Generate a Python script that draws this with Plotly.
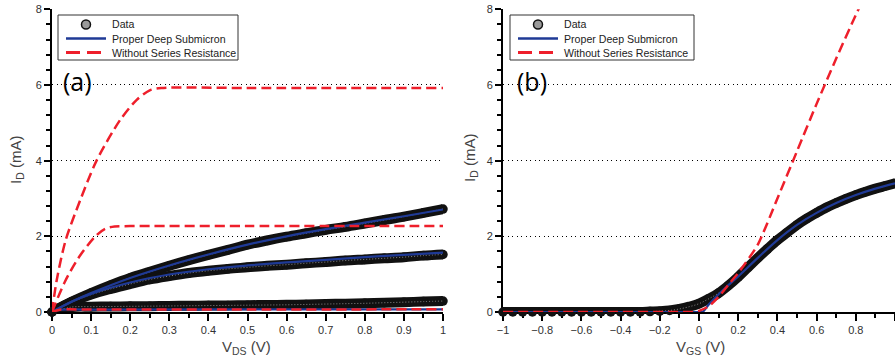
import plotly.graph_objects as go

# ---------------- data ----------------
# Panel (a): I_D vs V_DS
vds_data = [0, 0.05, 0.1, 0.15, 0.2, 0.25, 0.3, 0.35, 0.4, 0.45, 0.5,
            0.55, 0.6, 0.65, 0.7, 0.75, 0.8, 0.85, 0.9, 0.95, 1.0]
id_data_hi = [0, 0.27, 0.5, 0.71, 0.9, 1.06, 1.22, 1.37, 1.51, 1.64, 1.78,
              1.89, 1.99, 2.08, 2.17, 2.25, 2.34, 2.43, 2.52, 2.62, 2.72]
id_data_mid = [0, 0.26, 0.46, 0.61, 0.74, 0.86, 0.95, 1.03, 1.09, 1.14, 1.18,
               1.22, 1.25, 1.29, 1.32, 1.36, 1.39, 1.42, 1.45, 1.49, 1.52]
id_data_lo = [0, 0.13, 0.14, 0.145, 0.15, 0.155, 0.16, 0.165, 0.17, 0.175, 0.18,
              0.185, 0.19, 0.2, 0.21, 0.22, 0.23, 0.245, 0.26, 0.275, 0.29]

vds_model = [0, 0.05, 0.1, 0.2, 0.3, 0.4, 0.5, 0.6, 0.7, 0.8, 0.9, 1.0]
id_model_hi = [0, 0.27, 0.5, 0.9, 1.23, 1.52, 1.78, 2.0, 2.19, 2.36, 2.53, 2.71]
id_model_mid = [0, 0.27, 0.48, 0.78, 0.99, 1.13, 1.23, 1.31, 1.38, 1.45, 1.51, 1.57]
vds_model_lo = [0, 0.02, 0.1, 0.5, 1.0]
id_model_lo = [0, 0.06, 0.065, 0.068, 0.07]

vds_nors_hi = [0, 0.012, 0.035, 0.072, 0.114, 0.174, 0.216, 0.25, 0.28, 0.5, 1.0]
id_nors_hi = [0, 0.84, 1.9, 2.95, 4.0, 5.07, 5.6, 5.86, 5.92, 5.92, 5.92]
vds_nors_mid = [0, 0.033, 0.067, 0.11, 0.136, 0.16, 0.2, 0.5, 1.0]
id_nors_mid = [0, 0.8, 1.42, 1.99, 2.2, 2.26, 2.27, 2.27, 2.27]
vds_nors_lo = [0, 0.02, 0.1, 0.5, 1.0]
id_nors_lo = [0, 0.06, 0.065, 0.068, 0.07]

# Panel (b): I_D vs V_GS
vgs_data = [-1.0, -0.95, -0.9, -0.85, -0.8, -0.75, -0.7, -0.65, -0.6, -0.55, -0.5,
            -0.45, -0.4, -0.35, -0.3, -0.25, -0.2, -0.15, -0.1, -0.05, 0.0,
            0.05, 0.1, 0.15, 0.2, 0.25, 0.3, 0.35, 0.4, 0.45, 0.5,
            0.55, 0.6, 0.65, 0.7, 0.75, 0.8, 0.85, 0.9, 0.95, 1.0]
idb_data = [0, 0, 0, 0, 0, 0, 0, 0, 0, 0, 0,
            0, 0, 0, 0, 0.01, 0.02, 0.04, 0.08, 0.14, 0.22,
            0.35, 0.5, 0.7, 0.93, 1.18, 1.43, 1.67, 1.9, 2.1, 2.3,
            2.47, 2.62, 2.76, 2.88, 2.99, 3.09, 3.18, 3.26, 3.33, 3.4]
vgs_model = [-1, -0.5, -0.1, 0.0, 0.02, 0.05, 0.1, 0.15, 0.2, 0.3, 0.4, 0.5, 0.6, 0.7, 0.8, 0.9, 1.0]
idb_model = [0, 0, 0, 0, 0.01, 0.2, 0.47, 0.71, 0.94, 1.43, 1.9, 2.3, 2.62, 2.88, 3.09, 3.26, 3.4]
vgs_nors = [-1, -0.5, -0.1, -0.03, 0.0, 0.05, 0.1, 0.15, 0.2, 0.3, 0.4, 0.5, 0.6, 0.7, 0.8, 0.85]
idb_nors = [0, 0, 0, 0, 0.03, 0.15, 0.4, 0.72, 1.03, 1.78, 3.0, 4.25, 5.5, 6.7, 7.85, 8.4]

x_ticks_a = [0, 0.1, 0.2, 0.3, 0.4, 0.5, 0.6, 0.7, 0.8, 0.9, 1.0]
x_labels_a = ["0", "0.1", "0.2", "0.3", "0.4", "0.5", "0.6", "0.7", "0.8", "0.9", "1"]
x_ticks_b = [-1, -0.8, -0.6, -0.4, -0.2, 0, 0.2, 0.4, 0.6, 0.8, 1.0]
x_labels_b = ["\u22121", "\u22120.8", "\u22120.6", "\u22120.4", "\u22120.2", "0",
              "0.2", "0.4", "0.6", "0.8", "1"]
y_ticks = [0, 2, 4, 6, 8]
y_labels = ["0", "2", "4", "6", "8"]

series_names = ["Data", "Proper Deep Submicron", "Without Series Resistance"]

# ---------------- styles ----------------
BLUE = "#1f3a96"
RED = "#ee1f2b"
RED_DASH = "10px,5px"
FONT = "Liberation Sans, Arial, sans-serif"
W, H = 895, 359

fig = go.Figure()


def add_band(x, y, xa, ya, name):
    fig.add_trace(go.Scatter(
        x=x, y=y, xaxis=xa, yaxis=ya, mode="lines+markers", name=name, showlegend=False,
        line=dict(color="#111111", width=10, shape="spline"),
        marker=dict(color="#111111", size=9.5, line=dict(width=0)),
        cliponaxis=False, hoverinfo="skip"))
    fig.add_trace(go.Scatter(
        x=x, y=y, xaxis=xa, yaxis=ya, mode="lines", name=name, showlegend=False,
        line=dict(color="#8a8a8a", width=1, dash="1px,2px", shape="spline"),
        hoverinfo="skip"))


# panel (a)
for yy in (id_data_hi, id_data_mid, id_data_lo):
    add_band(vds_data, yy, "x", "y", series_names[0])
for xx, yy in [(vds_model, id_model_hi), (vds_model, id_model_mid),
               (vds_model_lo, id_model_lo)]:
    fig.add_trace(go.Scatter(
        x=xx, y=yy, xaxis="x", yaxis="y", mode="lines", name=series_names[1],
        showlegend=False, line=dict(color=BLUE, width=2.2, shape="spline")))
for xx, yy in [(vds_nors_hi, id_nors_hi), (vds_nors_mid, id_nors_mid),
               (vds_nors_lo, id_nors_lo)]:
    fig.add_trace(go.Scatter(
        x=xx, y=yy, xaxis="x", yaxis="y", mode="lines", name=series_names[2],
        showlegend=False,
        line=dict(color=RED, width=2.5, dash=RED_DASH, shape="spline", smoothing=0.8)))

# panel (b)
add_band(vgs_data, idb_data, "x2", "y2", series_names[0])
fig.add_trace(go.Scatter(
    x=vgs_model, y=idb_model, xaxis="x2", yaxis="y2", mode="lines", name=series_names[1],
    showlegend=False, line=dict(color=BLUE, width=2.2, shape="spline")))
fig.add_trace(go.Scatter(
    x=vgs_nors, y=idb_nors, xaxis="x2", yaxis="y2", mode="lines", name=series_names[2],
    showlegend=False,
    line=dict(color=RED, width=2.5, dash=RED_DASH, shape="spline", smoothing=0.6)))

# ---------------- axes ----------------
y_dom = [1 - 312 / H, 1 - 9.3 / H]
common_x = dict(showline=True, linecolor="black", linewidth=2, ticks="outside",
                ticklen=7, tickwidth=1.5, tickcolor="black", showgrid=False,
                zeroline=False, automargin=False, layer="below traces",
                tickfont=dict(family=FONT, size=11, color="#333333"))
common_y = dict(showline=True, linecolor="black", linewidth=2, ticks="outside",
                ticklen=6, tickwidth=2, tickcolor="black", showgrid=True,
                gridcolor="black", gridwidth=1, griddash="1px,3.5px",
                zeroline=False, automargin=False, layer="below traces",
                range=[0, 8], tickvals=y_ticks, ticktext=y_labels, domain=y_dom,
                minor=dict(dtick=0.4, ticks="outside", ticklen=4, tickwidth=1.5,
                           tickcolor="black", showgrid=False),
                tickfont=dict(family=FONT, size=11, color="#333333"))

fig.update_layout(
    width=W, height=H, autosize=False,
    margin=dict(l=0, r=0, t=0, b=0),
    paper_bgcolor="white", plot_bgcolor="white",
    font=dict(family=FONT, size=11, color="#333333"),
    showlegend=False,
    xaxis=dict(common_x, domain=[52 / W, 443 / W], range=[0, 1], anchor="y",
               tickvals=x_ticks_a, ticktext=x_labels_a,
               minor=dict(dtick=0.05, ticks="outside", ticklen=4, tickwidth=1.5,
                          tickcolor="black", showgrid=False)),
    yaxis=dict(common_y, anchor="x"),
    xaxis2=dict(common_x, domain=[503 / W, 1.0], range=[-1, 1.0], anchor="y2",
                tickvals=x_ticks_b, ticktext=x_labels_b,
                minor=dict(dtick=0.1, ticks="outside", ticklen=4, tickwidth=1.5,
                           tickcolor="black", showgrid=False)),
    yaxis2=dict(common_y, anchor="x2"),
)

# ---------------- compact legends (box, key symbols, labels) ----------------
def px_x(p):
    return p / W


def px_y(p):
    return 1 - p / H


def add_key(left, top, box_w):
    box_h = 45
    fig.add_shape(type="rect", xref="paper", yref="paper",
                  x0=px_x(left), x1=px_x(left + box_w), y0=px_y(top + box_h), y1=px_y(top),
                  line=dict(color="#333333", width=1), fillcolor="white", layer="above")
    rows = [top + 9.5, top + 23.5, top + 37.5]
    r = 4.5
    cx = left + 28
    fig.add_shape(type="circle", xref="paper", yref="paper",
                  x0=px_x(cx - r), x1=px_x(cx + r), y0=px_y(rows[0] + r), y1=px_y(rows[0] - r),
                  line=dict(color="#111111", width=1.5), fillcolor="#9a9a9a", layer="above")
    fig.add_shape(type="line", xref="paper", yref="paper",
                  x0=px_x(left + 8), x1=px_x(left + 48), y0=px_y(rows[1]), y1=px_y(rows[1]),
                  line=dict(color=BLUE, width=2.5), layer="above")
    fig.add_shape(type="line", xref="paper", yref="paper",
                  x0=px_x(left + 8), x1=px_x(left + 48), y0=px_y(rows[2]), y1=px_y(rows[2]),
                  line=dict(color=RED, width=3, dash="14px,7px"), layer="above")
    for name, ry in zip(series_names, rows):
        fig.add_annotation(xref="paper", yref="paper", x=px_x(left + 52), y=px_y(ry),
                           xanchor="left", yanchor="middle", showarrow=False, text=name,
                           font=dict(family=FONT, size=10.6, color="#222222"))


add_key(58, 15, 180)
add_key(510, 15, 184)

ann = [
    dict(text="(a)", x=77 / W, y=1 - 81 / H, font=dict(family="Open Sans", size=25, color="black")),
    dict(text="(b)", x=532 / W, y=1 - 81 / H, font=dict(family="Open Sans", size=25, color="black")),
    dict(text="I<sub>D</sub> (mA)", x=17 / W, y=1 - 160 / H, textangle=-90,
         font=dict(family=FONT, size=15, color="#444444")),
    dict(text="I<sub>D</sub> (mA)", x=470 / W, y=1 - 158 / H, textangle=-90,
         font=dict(family=FONT, size=15, color="#444444")),
    dict(text="V<sub>DS</sub> (V)", x=246 / W, y=1 - 347 / H,
         font=dict(family=FONT, size=15, color="#444444")),
    dict(text="V<sub>GS</sub> (V)", x=700 / W, y=1 - 347 / H,
         font=dict(family=FONT, size=15, color="#444444")),
]
for a in ann:
    fig.add_annotation(xref="paper", yref="paper", showarrow=False,
                       xanchor="center", yanchor="middle", **a)

fig.write_html("out.html")
